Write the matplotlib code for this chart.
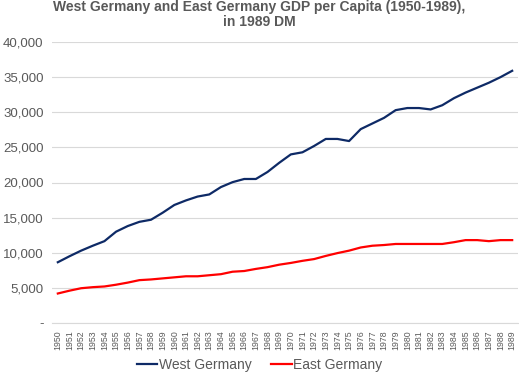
import numpy as np
from matplotlib import pyplot as plt
from matplotlib.ticker import FuncFormatter

years = list(range(1950, 1990))
west_germany = [8650, 9500, 10300, 11000, 11650, 13000, 13800, 14400, 14700, 15700,
                16800, 17450, 18000, 18300, 19350, 20050, 20500, 20500, 21500, 22800,
                24000, 24300, 25200, 26200, 26200, 25900, 27600, 28400, 29200, 30300,
                30600, 30600, 30400, 31000, 32000, 32800, 33500, 34200, 35000, 35900]
east_germany = [4200, 4600, 4950, 5100, 5200, 5450, 5750, 6100, 6200, 6350,
                6500, 6650, 6650, 6800, 6950, 7300, 7400, 7700, 7950, 8300,
                8550, 8850, 9100, 9550, 9950, 10300, 10750, 11000, 11100, 11250,
                11250, 11250, 11250, 11250, 11500, 11800, 11800, 11650, 11800, 11800]


def fmt(v, pos):
    return "-" if v == 0 else f"{v:,.0f}"


def plot():
    plt.rcParams['font.family'] = ['Liberation Sans', 'DejaVu Sans']
    fig = plt.figure(figsize=(5.19, 3.73), dpi=100)
    ax = fig.add_axes([52 / 519, 1 - 323 / 373, 466 / 519, 281 / 373])
    x = np.arange(len(years))
    ax.plot(x, west_germany, color="#0E2A66", lw=1.6, label="West Germany")
    ax.plot(x, east_germany, color="#FF0000", lw=1.6, label="East Germany")

    ax.set_xlim(-0.5, len(years) - 0.5)
    ax.set_ylim(0, 40000)
    ax.set_yticks(range(0, 40001, 5000))
    ax.yaxis.set_major_formatter(FuncFormatter(fmt))
    ax.set_xticks(x)
    ax.set_xticklabels([str(y) for y in years], rotation=90, fontsize=6.3, color="#595959")
    ax.tick_params(axis="y", labelsize=9.5, colors="#595959", length=0, pad=6)
    ax.tick_params(axis="x", length=0, pad=5)
    ax.grid(axis="y", color="#D9D9D9", lw=0.8)
    ax.set_axisbelow(True)
    for s in ["top", "right", "left"]:
        ax.spines[s].set_visible(False)
    ax.spines["bottom"].set_color("#D9D9D9")

    fig.text(0.5, 1 - 0.5 / 373, "West Germany and East Germany GDP per Capita (1950-1989),\nin 1989 DM",
             ha="center", va="top", fontsize=10, fontweight="bold", color="#595959",
             linespacing=1.05)
    fig.legend(loc="center", bbox_to_anchor=(0.5, 1 - 365 / 373), ncol=2, frameon=False,
               fontsize=10, handlelength=1.5, handletextpad=0.1, columnspacing=1.4,
               labelcolor="#595959")
    fig.savefig("out.png", dpi=100)
    plt.close()


if __name__ == "__main__":
    plot()
